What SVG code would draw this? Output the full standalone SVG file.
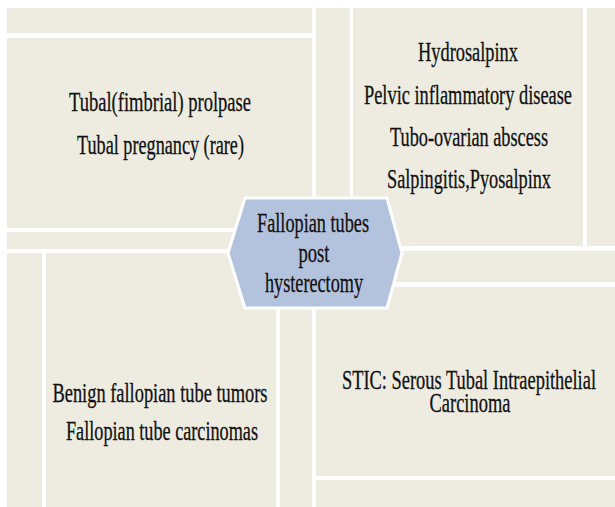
<svg xmlns="http://www.w3.org/2000/svg" width="615" height="507" viewBox="0 0 615 507">
<style>
.bg{fill:#ffffff}
.tile{fill:#eeece1}
.hex{fill:#b4c3dd;stroke:#ffffff;stroke-width:3}
.t{font-family:"Liberation Serif","Times New Roman","DejaVu Serif",serif;font-size:27.5px;fill:#111111;stroke:#111111;stroke-width:0.3;text-anchor:middle}
</style>
<rect class="bg" x="0" y="0" width="615" height="507"/>
<g id="tiles">
<rect class="tile" x="7" y="8" width="305" height="25"/>
<rect class="tile" x="7" y="232" width="305" height="17"/>
<rect class="tile" x="316" y="8" width="34" height="238"/>
<rect class="tile" x="587" y="8" width="28" height="238"/>
<rect class="tile" x="316" y="251" width="299" height="31"/>
<rect class="tile" x="316" y="480" width="299" height="27"/>
<rect class="tile" x="7" y="253" width="35" height="254"/>
<rect class="tile" x="280" y="253" width="32" height="254"/>
</g>
<g id="connectors"></g>
<g id="node-top-left">
<rect class="tile" x="7" y="38" width="305" height="190"/>
<text class="t" x="160" y="111" textLength="182" lengthAdjust="spacingAndGlyphs">Tubal(fimbrial) prolpase</text>
<text class="t" x="160.5" y="154" textLength="167" lengthAdjust="spacingAndGlyphs">Tubal pregnancy (rare)</text>
</g>
<g id="node-top-right">
<rect class="tile" x="353" y="8" width="230" height="238"/>
<text class="t" x="468" y="61" textLength="100" lengthAdjust="spacingAndGlyphs">Hydrosalpinx</text>
<text class="t" x="468" y="104" textLength="208" lengthAdjust="spacingAndGlyphs">Pelvic inflammatory disease</text>
<text class="t" x="469" y="146" textLength="158" lengthAdjust="spacingAndGlyphs">Tubo-ovarian abscess</text>
<text class="t" x="469" y="188" textLength="164" lengthAdjust="spacingAndGlyphs">Salpingitis,Pyosalpinx</text>
</g>
<g id="node-bottom-left">
<rect class="tile" x="46" y="253" width="230" height="254"/>
<text class="t" x="160" y="402" textLength="215" lengthAdjust="spacingAndGlyphs">Benign fallopian tube tumors</text>
<text class="t" x="162" y="440" textLength="192" lengthAdjust="spacingAndGlyphs">Fallopian tube carcinomas</text>
</g>
<g id="node-bottom-right">
<rect class="tile" x="316" y="287" width="299" height="189"/>
<text class="t" x="469" y="389" textLength="254" lengthAdjust="spacingAndGlyphs">STIC: Serous Tubal Intraepithelial</text>
<text class="t" x="470" y="412" textLength="81" lengthAdjust="spacingAndGlyphs">Carcinoma</text>
</g>
<g id="node-center">
<polygon class="hex" points="245,198 387,198 402,253 387,308 245,308 228,253"/>
<text class="t" x="313" y="232" textLength="112" lengthAdjust="spacingAndGlyphs">Fallopian tubes</text>
<text class="t" x="314" y="262" textLength="31" lengthAdjust="spacingAndGlyphs">post</text>
<text class="t" x="314" y="292" textLength="98" lengthAdjust="spacingAndGlyphs">hysterectomy</text>
</g>
</svg>
